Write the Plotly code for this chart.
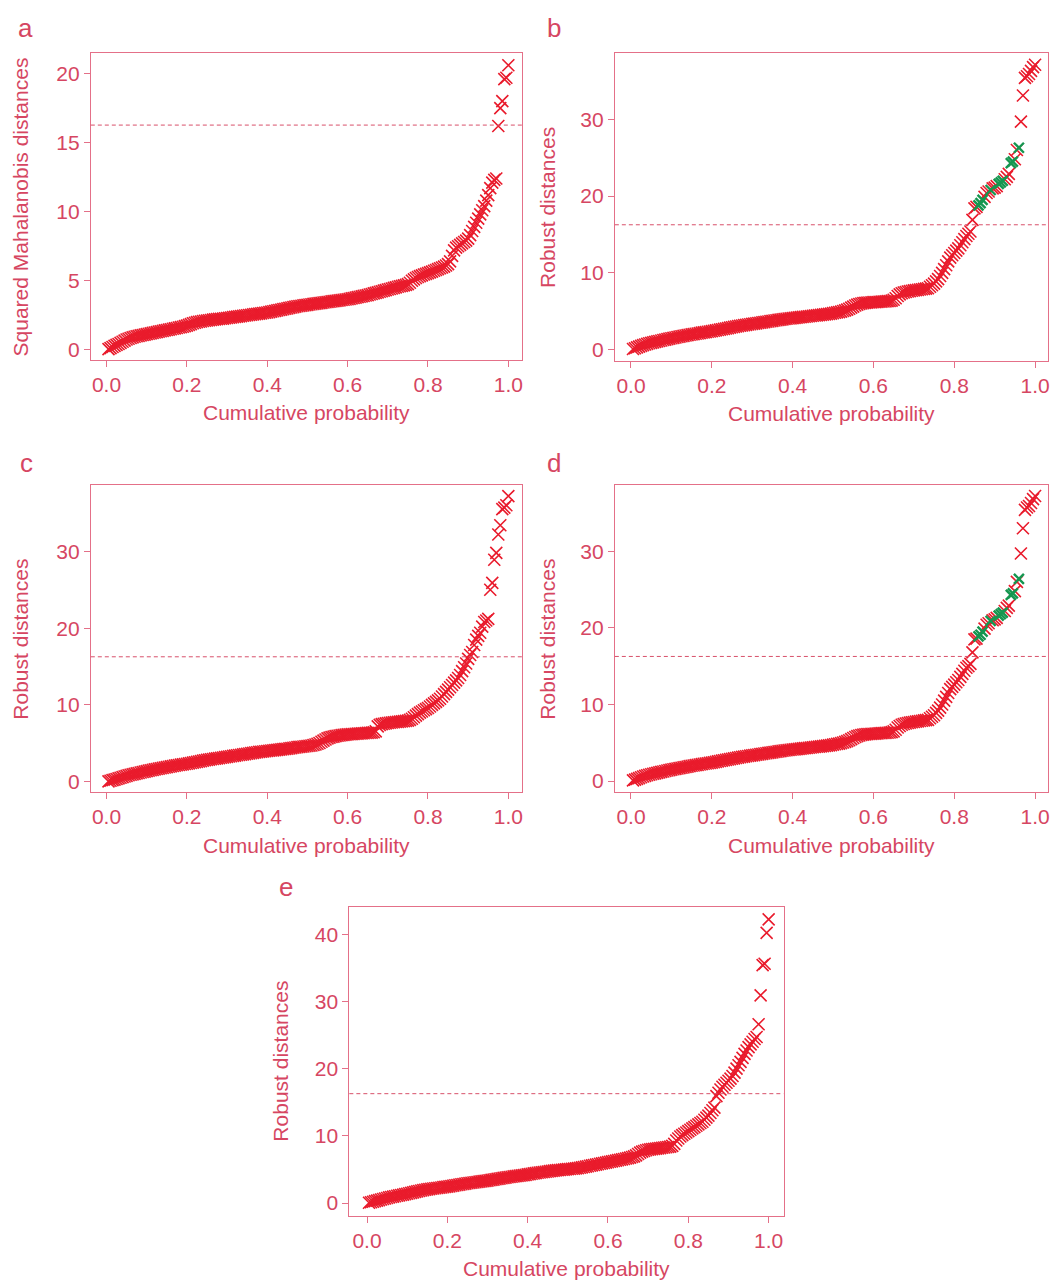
import plotly.graph_objects as go

# ---------------- data (sorted distances) ----------------
cutoff = 16.27

a_y = [0.05, 0.12, 0.2, 0.28, 0.35, 0.42, 0.5, 0.58, 0.66, 0.74,
       0.8, 0.85, 0.9, 0.94, 0.98, 1.01, 1.04, 1.07, 1.1, 1.13,
       1.16, 1.19, 1.22, 1.25, 1.28, 1.31, 1.34, 1.37, 1.4, 1.43,
       1.46, 1.49, 1.52, 1.55, 1.58, 1.61, 1.64, 1.67, 1.71, 1.75,
       1.8, 1.86, 1.92, 1.96, 2.0, 2.03, 2.05, 2.08, 2.1, 2.12,
       2.14, 2.16, 2.18, 2.2, 2.22, 2.24, 2.25, 2.26, 2.28, 2.3,
       2.32, 2.34, 2.36, 2.38, 2.4, 2.42, 2.44, 2.46, 2.48, 2.5,
       2.52, 2.54, 2.56, 2.58, 2.6, 2.62, 2.64, 2.66, 2.68, 2.7,
       2.73, 2.76, 2.79, 2.82, 2.85, 2.88, 2.91, 2.94, 2.97, 3.0,
       3.03, 3.06, 3.09, 3.12, 3.15, 3.17, 3.19, 3.21, 3.23, 3.25,
       3.28, 3.3, 3.32, 3.34, 3.36, 3.38, 3.4, 3.42, 3.44, 3.46,
       3.48, 3.5, 3.52, 3.54, 3.56, 3.58, 3.6, 3.62, 3.64, 3.66,
       3.69, 3.72, 3.75, 3.78, 3.81, 3.84, 3.87, 3.9, 3.93, 3.96,
       4.0, 4.04, 4.08, 4.12, 4.16, 4.2, 4.24, 4.28, 4.32, 4.36,
       4.4, 4.44, 4.48, 4.52, 4.56, 4.6, 4.63, 4.66, 4.7, 4.75,
       4.85, 5.0, 5.1, 5.2, 5.27, 5.33, 5.39, 5.45, 5.5, 5.55,
       5.6, 5.66, 5.72, 5.78, 5.84, 5.9, 5.96, 6.02, 6.1, 6.2,
       6.4, 6.8, 7.2, 7.4, 7.5, 7.6, 7.7, 7.8, 7.9, 8.05,
       8.3, 8.6, 8.9, 9.2, 9.5, 9.8, 10.1, 10.4, 10.8, 11.2,
       11.7, 12.1, 12.3, 12.4, 16.2, 17.5, 18.0, 19.6, 19.7, 20.6]

b_y = [0.1, 0.2, 0.3, 0.4, 0.5, 0.6, 0.68, 0.76, 0.84, 0.9,
       0.96, 1.02, 1.08, 1.14, 1.2, 1.26, 1.32, 1.38, 1.44, 1.5,
       1.55, 1.6, 1.65, 1.7, 1.75, 1.8, 1.85, 1.9, 1.95, 2.0,
       2.04, 2.08, 2.12, 2.17, 2.22, 2.26, 2.3, 2.34, 2.38, 2.42,
       2.47, 2.52, 2.57, 2.62, 2.67, 2.72, 2.77, 2.82, 2.87, 2.92,
       2.97, 3.02, 3.07, 3.12, 3.16, 3.2, 3.24, 3.28, 3.32, 3.36,
       3.4, 3.44, 3.48, 3.52, 3.56, 3.6, 3.64, 3.68, 3.72, 3.76,
       3.8, 3.84, 3.88, 3.92, 3.96, 4.0, 4.03, 4.06, 4.09, 4.12,
       4.15, 4.18, 4.21, 4.24, 4.27, 4.3, 4.33, 4.36, 4.39, 4.42,
       4.45, 4.48, 4.51, 4.54, 4.57, 4.6, 4.63, 4.66, 4.7, 4.76,
       4.82, 4.86, 4.9, 4.96, 5.04, 5.12, 5.22, 5.34, 5.48, 5.62,
       5.76, 5.88, 5.96, 6.02, 6.06, 6.1, 6.13, 6.15, 6.17, 6.19,
       6.2, 6.22, 6.24, 6.26, 6.28, 6.3, 6.32, 6.35, 6.4, 6.5,
       6.7, 7.0, 7.2, 7.35, 7.45, 7.52, 7.58, 7.63, 7.68, 7.72,
       7.76, 7.8, 7.84, 7.88, 7.92, 7.96, 8.0, 8.2, 8.4, 8.6,
       8.9, 9.2, 9.6, 10.0, 10.5, 11.0, 11.5, 12.0, 12.3, 12.6,
       12.9, 13.2, 13.6, 14.0, 14.4, 14.8, 15.1, 15.4, 16.9, 18.4,
       18.6, 18.8, 19.1, 19.5, 19.9, 20.4, 20.6, 20.8, 21.0, 21.1,
       21.3, 21.6, 21.8, 22.0, 22.2, 22.5, 22.9, 24.3, 24.5, 24.8,
       26.0, 26.3, 29.7, 33.1, 35.4, 35.6, 35.9, 36.3, 36.8, 37.1]
b_green = [18.8, 19.1, 19.5, 20.8, 21.6, 21.8, 22.0, 24.3, 24.5, 26.3]

c_y = [0.05, 0.12, 0.2, 0.28, 0.36, 0.44, 0.52, 0.6, 0.68, 0.76,
       0.84, 0.9, 0.96, 1.02, 1.08, 1.14, 1.2, 1.26, 1.32, 1.38,
       1.44, 1.5, 1.55, 1.6, 1.65, 1.7, 1.75, 1.8, 1.85, 1.9,
       1.95, 2.0, 2.05, 2.1, 2.14, 2.18, 2.22, 2.26, 2.3, 2.34,
       2.39, 2.44, 2.49, 2.54, 2.59, 2.64, 2.69, 2.74, 2.79, 2.84,
       2.88, 2.92, 2.96, 3.0, 3.04, 3.08, 3.12, 3.16, 3.2, 3.24,
       3.28, 3.32, 3.36, 3.4, 3.44, 3.48, 3.52, 3.56, 3.6, 3.64,
       3.68, 3.72, 3.76, 3.8, 3.84, 3.88, 3.91, 3.94, 3.97, 4.0,
       4.03, 4.06, 4.09, 4.12, 4.15, 4.18, 4.21, 4.24, 4.27, 4.3,
       4.34, 4.38, 4.42, 4.46, 4.5, 4.53, 4.56, 4.59, 4.62, 4.65,
       4.68, 4.72, 4.78, 4.85, 4.95, 5.05, 5.2, 5.35, 5.5, 5.65,
       5.75, 5.82, 5.88, 5.93, 5.98, 6.02, 6.06, 6.1, 6.13, 6.16,
       6.18, 6.2, 6.22, 6.24, 6.26, 6.28, 6.3, 6.32, 6.34, 6.36,
       6.38, 6.4, 6.45, 6.55, 7.2, 7.4, 7.5, 7.55, 7.6, 7.65,
       7.68, 7.71, 7.74, 7.77, 7.8, 7.83, 7.86, 7.89, 7.92, 7.96,
       8.05, 8.2, 8.4, 8.6, 8.8, 9.0, 9.15, 9.3, 9.45, 9.6,
       9.8, 10.0, 10.2, 10.4, 10.6, 10.8, 11.1, 11.4, 11.7, 12.0,
       12.3, 12.6, 12.9, 13.2, 13.5, 13.9, 14.4, 14.9, 15.4, 16.0,
       16.5, 16.9, 17.8, 18.5, 19.0, 19.4, 20.2, 20.8, 21.0, 21.2,
       25.0, 25.9, 28.9, 29.8, 32.2, 33.4, 35.5, 35.7, 36.0, 37.2]

d_y = [0.1, 0.2, 0.3, 0.4, 0.5, 0.6, 0.68, 0.76, 0.84, 0.9,
       0.96, 1.02, 1.08, 1.14, 1.2, 1.26, 1.32, 1.38, 1.44, 1.5,
       1.55, 1.6, 1.65, 1.7, 1.75, 1.8, 1.85, 1.9, 1.95, 2.0,
       2.04, 2.08, 2.12, 2.17, 2.22, 2.26, 2.3, 2.34, 2.38, 2.42,
       2.47, 2.52, 2.57, 2.62, 2.67, 2.72, 2.77, 2.82, 2.87, 2.92,
       2.97, 3.02, 3.07, 3.12, 3.16, 3.2, 3.24, 3.28, 3.32, 3.36,
       3.4, 3.44, 3.48, 3.52, 3.56, 3.6, 3.64, 3.68, 3.72, 3.76,
       3.8, 3.84, 3.88, 3.92, 3.96, 4.0, 4.03, 4.06, 4.09, 4.12,
       4.15, 4.18, 4.21, 4.24, 4.27, 4.3, 4.33, 4.36, 4.39, 4.42,
       4.45, 4.48, 4.51, 4.54, 4.57, 4.6, 4.63, 4.66, 4.7, 4.76,
       4.82, 4.86, 4.9, 4.96, 5.04, 5.12, 5.22, 5.34, 5.48, 5.62,
       5.76, 5.88, 5.96, 6.02, 6.06, 6.1, 6.13, 6.15, 6.17, 6.19,
       6.2, 6.22, 6.24, 6.26, 6.28, 6.3, 6.32, 6.35, 6.4, 6.5,
       6.7, 7.0, 7.2, 7.35, 7.45, 7.52, 7.58, 7.63, 7.68, 7.72,
       7.76, 7.8, 7.84, 7.88, 7.92, 7.96, 8.0, 8.2, 8.4, 8.6,
       8.9, 9.2, 9.6, 10.0, 10.5, 11.0, 11.5, 12.0, 12.3, 12.6,
       12.9, 13.2, 13.6, 14.0, 14.4, 14.8, 15.0, 15.3, 16.8, 18.5,
       18.6, 18.9, 19.1, 19.5, 19.9, 20.4, 20.6, 20.9, 21.0, 21.1,
       21.3, 21.6, 21.8, 22.0, 22.2, 22.6, 22.9, 24.3, 24.5, 24.8,
       26.0, 26.4, 29.7, 33.0, 35.4, 35.7, 35.9, 36.3, 36.8, 37.2]
d_green = [18.9, 19.1, 19.5, 20.9, 21.6, 21.8, 22.0, 24.3, 24.5, 26.4]

e_y = [0.05, 0.12, 0.2, 0.28, 0.36, 0.44, 0.52, 0.6, 0.68, 0.76,
       0.84, 0.9, 0.96, 1.02, 1.08, 1.14, 1.2, 1.26, 1.32, 1.38,
       1.45, 1.52, 1.59, 1.66, 1.73, 1.8, 1.86, 1.92, 1.98, 2.04,
       2.08, 2.12, 2.16, 2.2, 2.24, 2.28, 2.32, 2.36, 2.4, 2.44,
       2.49, 2.54, 2.59, 2.64, 2.69, 2.74, 2.79, 2.84, 2.89, 2.94,
       2.98, 3.02, 3.06, 3.1, 3.14, 3.18, 3.22, 3.26, 3.3, 3.34,
       3.39, 3.44, 3.49, 3.54, 3.59, 3.64, 3.69, 3.74, 3.79, 3.84,
       3.88, 3.92, 3.96, 4.0, 4.04, 4.08, 4.12, 4.16, 4.2, 4.26,
       4.31, 4.36, 4.41, 4.46, 4.5, 4.54, 4.58, 4.62, 4.66, 4.7,
       4.74, 4.78, 4.82, 4.86, 4.89, 4.92, 4.95, 4.98, 5.01, 5.04,
       5.07, 5.1, 5.13, 5.16, 5.2, 5.25, 5.3, 5.36, 5.42, 5.48,
       5.54, 5.6, 5.66, 5.72, 5.78, 5.84, 5.9, 5.96, 6.02, 6.08,
       6.14, 6.2, 6.26, 6.32, 6.38, 6.44, 6.5, 6.56, 6.62, 6.68,
       6.75, 6.85, 6.95, 7.1, 7.3, 7.5, 7.65, 7.75, 7.85, 7.92,
       7.98, 8.02, 8.06, 8.1, 8.14, 8.18, 8.22, 8.26, 8.3, 8.34,
       8.4, 8.5, 8.8, 9.3, 9.6, 9.9, 10.1, 10.3, 10.5, 10.7,
       10.9, 11.1, 11.3, 11.5, 11.7, 11.9, 12.1, 12.4, 12.7, 13.0,
       13.4, 13.8, 14.2, 15.9, 16.4, 16.9, 17.3, 17.6, 17.9, 18.2,
       18.5, 18.9, 19.4, 20.0, 20.5, 21.0, 21.6, 22.2, 22.7, 23.2,
       23.6, 24.0, 24.4, 24.7, 26.6, 30.9, 35.4, 35.6, 40.2, 42.2]

x_ticks = [0.0, 0.2, 0.4, 0.6, 0.8, 1.0]
a_yticks = [0, 5, 10, 15, 20]
bcd_yticks = [0, 10, 20, 30]
e_yticks = [0, 10, 20, 30, 40]

# ---------------- styling ----------------
W, H = 1053, 1285
RED = "rgb(233,27,44)"
GREEN = "rgb(22,150,80)"
TXT = "rgb(214,70,98)"
FRAME = "rgb(228,112,136)"
DASHC = "rgb(216,80,106)"
FONT = "Liberation Sans, Arial, sans-serif"
FS = 21


def px(xp):
    return min(1.0, max(0.0, xp / W))


def py(yp):
    return min(1.0, max(0.0, 1 - yp / H))


panels = [
    dict(letter="a", y=a_y, green=[], box=(91, 53.3, 523, 360), xr=[-0.039, 1.034], yr=[-0.72, 21.47],
         yt=a_yticks, ytitle="Squared Mahalanobis distances", lpos=(26, 28), ytx=21),
    dict(letter="b", y=b_y, green=b_green, box=(616, 53.3, 1050, 361), xr=[-0.04, 1.032], yr=[-1.43, 38.6],
         yt=bcd_yticks, ytitle="Robust distances", lpos=(555, 28), ytx=549),
    dict(letter="c", y=c_y, green=[], box=(91, 485.7, 523, 792.7), xr=[-0.039, 1.034], yr=[-1.35, 38.6],
         yt=bcd_yticks, ytitle="Robust distances", lpos=(27, 463), ytx=21),
    dict(letter="d", y=d_y, green=d_green, box=(616, 485.7, 1050, 792.7), xr=[-0.04, 1.032], yr=[-1.43, 38.6],
         yt=bcd_yticks, ytitle="Robust distances", lpos=(555, 463), ytx=549),
    dict(letter="e", y=e_y, green=[], box=(350, 907.3, 785, 1216.7), xr=[-0.044, 1.037], yr=[-1.89, 44.1],
         yt=e_yticks, ytitle="Robust distances", lpos=(287, 888), ytx=281),
]

fig = go.Figure()
layout = dict(width=W, height=H, margin=dict(l=0, r=0, t=0, b=0),
              paper_bgcolor="white", plot_bgcolor="white", showlegend=False,
              font=dict(family=FONT, color=TXT, size=FS))
annotations = []
shapes = []

for k, p in enumerate(panels, start=1):
    xa = "x" if k == 1 else f"x{k}"
    ya = "y" if k == 1 else f"y{k}"
    n = len(p["y"])
    xs = [(i + 1) / n for i in range(n)]  # cumulative probability of the sorted values
    gset = p["green"]
    is_g = [any(abs(v - g) < 1e-9 for g in gset) for v in p["y"]]
    rx = [x for x, g in zip(xs, is_g) if not g]
    ry = [v for v, g in zip(p["y"], is_g) if not g]
    gx = [x for x, g in zip(xs, is_g) if g]
    gy = [v for v, g in zip(p["y"], is_g) if g]
    fig.add_trace(go.Scatter(x=rx, y=ry, mode="markers", xaxis=xa, yaxis=ya,
                             marker=dict(symbol="x-thin", size=12, color=RED,
                                         line=dict(width=1.6, color=RED))))
    if gx:
        fig.add_trace(go.Scatter(x=gx, y=gy, mode="markers", xaxis=xa, yaxis=ya,
                                 marker=dict(symbol="x-thin", size=10, color=GREEN,
                                             line=dict(width=2.4, color=GREEN))))
    x0, y0, x1, y1 = p["box"]
    common = dict(showgrid=False, zeroline=False, showline=True, mirror=True,
                  linecolor=FRAME, linewidth=1, ticks="outside", ticklen=6,
                  tickwidth=1, tickcolor=FRAME,
                  tickfont=dict(family=FONT, size=FS, color=TXT))
    layout["xaxis" if k == 1 else f"xaxis{k}"] = dict(
        domain=[px(x0), px(x1)], range=p["xr"], anchor=ya, tickvals=x_ticks,
        ticktext=[f"{v:.1f}" for v in x_ticks], **common)
    layout["yaxis" if k == 1 else f"yaxis{k}"] = dict(
        domain=[py(y1), py(y0)], range=p["yr"], anchor=xa, tickvals=p["yt"],
        ticktext=[str(v) for v in p["yt"]], **common)
    shapes.append(dict(type="line", xref=f"{xa} domain", yref=ya, x0=0, x1=1,
                       y0=cutoff, y1=cutoff, line=dict(color=DASHC, width=1, dash="4px,3px")))
    annotations.append(dict(text=p["letter"], x=px(p["lpos"][0]), y=py(p["lpos"][1]),
                            xref="paper", yref="paper", showarrow=False,
                            xanchor="center", yanchor="middle",
                            font=dict(family=FONT, size=26, color=TXT)))
    annotations.append(dict(text="Cumulative probability", x=px((x0 + x1) / 2),
                            y=py(y1 + 53), xref="paper", yref="paper", showarrow=False,
                            xanchor="center", yanchor="middle",
                            font=dict(family=FONT, size=FS, color=TXT)))
    annotations.append(dict(text=p["ytitle"], x=px(p["ytx"]), y=py((y0 + y1) / 2),
                            xref="paper", yref="paper", showarrow=False, textangle=-90,
                            xanchor="center", yanchor="middle",
                            font=dict(family=FONT, size=FS, color=TXT)))

layout["annotations"] = annotations
layout["shapes"] = shapes
fig.update_layout(**layout)
fig.write_html("out.html",
               config={"displayModeBar": False, "staticPlot": True},
               post_script="document.body.style.margin='0px';"
                           "document.body.style.overflow='hidden';")
